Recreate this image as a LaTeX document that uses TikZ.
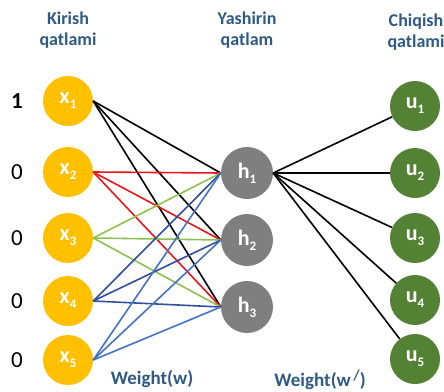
\documentclass[tikz,border=0pt]{standalone}
\usepackage{fontspec}
\setmainfont{Carlito}
\usetikzlibrary{calc}
\definecolor{nyellow}{HTML}{FFC000}
\definecolor{ngrey}{HTML}{7F7F7F}
\definecolor{ngreen}{HTML}{548235}
\definecolor{ntitle}{HTML}{2E5A85}
\definecolor{wred}{HTML}{E8161B}
\definecolor{wgreen}{HTML}{8CC152}
\definecolor{wnavy}{HTML}{2F4F9A}
\definecolor{wblue}{HTML}{4472C4}
\newcommand{\lo}[1]{\raisebox{-0.45ex}{\fontsize{13}{13}\selectfont #1}}

\begin{document}
\begin{tikzpicture}[
  x=1pt, y=-1pt,
  font=\bfseries,
  neuron/.style={circle, inner sep=0pt, minimum size=50pt, text=white,
                 font=\bfseries\fontsize{22}{22}\selectfont},
  inp/.style={neuron, fill=nyellow},
  hid/.style={neuron, fill=ngrey, minimum size=52pt},
  outp/.style={neuron, fill=ngreen},
  title/.style={align=center, text=ntitle, font=\bfseries\fontsize{18}{21}\selectfont},
  val/.style={font=\fontsize{23}{23}\selectfont},
  wlab/.style={text=ntitle, font=\bfseries\fontsize{19}{19}\selectfont},
  wire/.style={line width=1.6pt},
]
\useasboundingbox (0,0) rectangle (444,391);

% ---------------- the three layers ----------------
\node[title] (tin)  at (68, 30)  {Kirish\\qatlami};
\node[title] (thid) at (247, 30) {Yashirin\\qatlam};
\node[title] (tout) at (416, 32) {Chiqish\\qatlami};

\node[inp] (x1) at (68, 101) {x\lo{1}};
\node[inp] (x2) at (68, 172) {x\lo{2}};
\node[inp] (x3) at (68, 238) {x\lo{3}};
\node[inp] (x4) at (68, 301) {x\lo{4}};
\node[inp] (x5) at (68, 360) {x\lo{5}};

\node[hid] (h1) at (247, 173) {h\lo{1}};
\node[hid] (h2) at (247, 240) {h\lo{2}};
\node[hid] (h3) at (247, 307) {h\lo{3}};

\foreach \k/\y in {1/106, 2/173, 3/238, 4/300, 5/359}
  \node[outp] (u\k) at (415, \y) {u\lo{\k}};

% ---------------- the one-hot input ----------------
\node[val, font=\bfseries\fontsize{23}{23}\selectfont] (v1) at (17, 101) {1};
\foreach \i/\y in {2/172, 3/238, 4/301, 5/360}
  \node[val] (v\i) at (17, \y) {0};

% ---------------- weights ----------------
\foreach \i/\c in {1/black, 2/wred, 3/wgreen, 4/wnavy, 5/wblue}
  \foreach \j in {1,2,3}
    \draw[wire, \c] (x\i.east) -- (h\j.west);
\foreach \k in {1,...,5}
  \draw[wire, black] (h1.east) -- (u\k);

\node[wlab] (w)  at (152, 379) {Weight(w)};
\node[wlab] (wp) at (320, 380) {Weight(w\raisebox{0.7ex}{\fontsize{15}{15}\selectfont\,/})};

\end{tikzpicture}
\end{document}
